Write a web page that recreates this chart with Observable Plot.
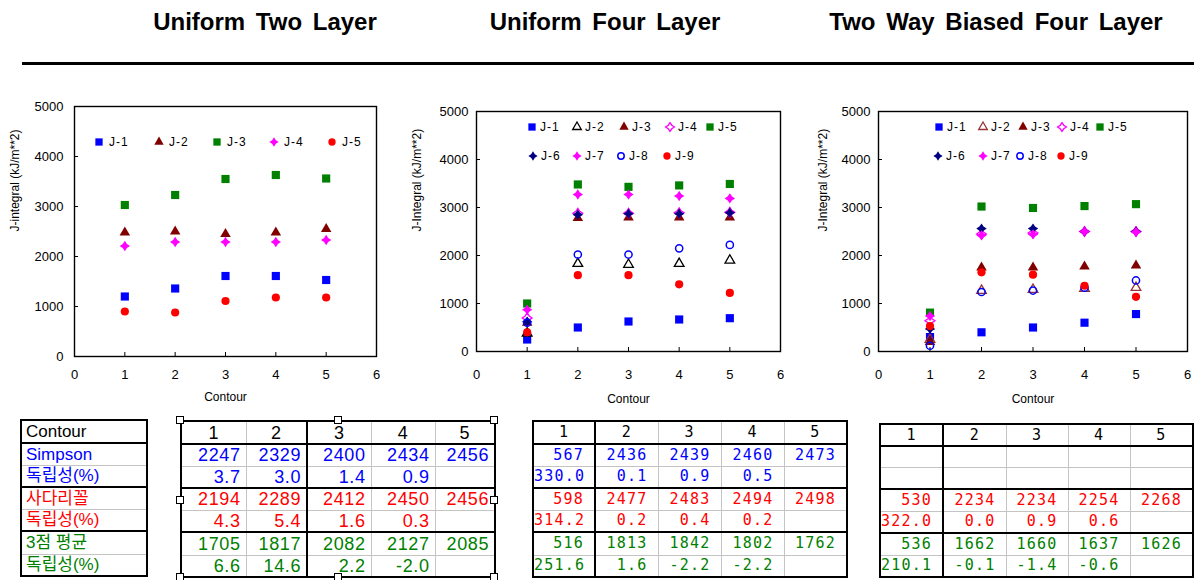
<!DOCTYPE html>
<html lang="ko">
<head>
<meta charset="utf-8">
<script src="https://cdn.jsdelivr.net/npm/d3@7"></script>
<script src="https://cdn.jsdelivr.net/npm/@observablehq/plot@0.6"></script>
<style>
html,body{margin:0;padding:0;background:#fff;}
#root{position:relative;width:1194px;height:580px;overflow:hidden;background:#fff;}
.title{position:absolute;top:8px;transform:translateX(-50%);white-space:nowrap;font-family:"Liberation Sans",Arial,sans-serif;font-weight:bold;font-size:24px;word-spacing:4px;color:#000;}
.rule{position:absolute;left:22px;top:62px;width:1172px;height:3px;background:#000;}
.chart{position:absolute;}
.legend{position:absolute;left:0;top:0;pointer-events:none;}
table.t{position:absolute;border-collapse:collapse;table-layout:fixed;}
table.t td{padding:0;overflow:hidden;white-space:nowrap;line-height:1;}
.handle{position:absolute;width:8px;height:8px;background:#fff;border:1px solid #000;box-sizing:border-box;}
</style>
</head>
<body><div id="root"></div>
<script>
// ---------- data ----------
const titles = ["Uniform Two Layer", "Uniform Four Layer", "Two Way Biased Four Layer"];
const contours = [1, 2, 3, 4, 5];
const xTicks = [0, 1, 2, 3, 4, 5, 6];
const yTicks = [0, 1000, 2000, 3000, 4000, 5000];
const xLabel = "Contour";

// Uniform Two Layer
const u2J1 = [1200, 1360, 1610, 1610, 1530];
const u2J2 = [2480, 2500, 2450, 2480, 2550];
const u2J3 = [3030, 3230, 3550, 3630, 3560];
const u2J4 = [2210, 2290, 2290, 2290, 2330];
const u2J5 = [900, 880, 1110, 1180, 1180];

// Uniform Four Layer
const u4J1 = [250, 500, 625, 667, 694];
const u4J2 = [380, 1830, 1810, 1830, 1900];
const u4J3 = [600, 2780, 2790, 2790, 2790];
const u4J4 = [700, 2880, 2880, 2890, 2900];
const u4J5 = [1000, 3480, 3430, 3460, 3490];
const u4J6 = [620, 2850, 2870, 2870, 2890];
const u4J7 = [870, 3270, 3270, 3240, 3190];
const u4J8 = [600, 2020, 2020, 2150, 2220];
const u4J9 = [400, 1590, 1590, 1400, 1220];

// Two Way Biased Four Layer
const bJ1 = [300, 400, 500, 600, 780];
const bJ2 = [250, 1270, 1290, 1310, 1330];
const bJ3 = [200, 1750, 1750, 1770, 1790];
const bJ4 = [640, 2450, 2470, 2500, 2500];
const bJ5 = [810, 3020, 2990, 3030, 3070];
const bJ6 = [470, 2560, 2560, 2500, 2500];
const bJ7 = [740, 2420, 2440, 2500, 2490];
const bJ8 = [120, 1240, 1270, 1330, 1480];
const bJ9 = [530, 1650, 1600, 1370, 1140];

// tables
const tHeader = ["1", "2", "3", "4", "5"];
const rowLabels = ["Contour", "Simpson", "독립성(%)", "사다리꼴", "독립성(%)", "3점 평균", "독립성(%)"];
const t1Simpson = ["2247", "2329", "2400", "2434", "2456"];
const t1SimpsonPct = ["3.7", "3.0", "1.4", "0.9", ""];
const t1Trap = ["2194", "2289", "2412", "2450", "2456"];
const t1TrapPct = ["4.3", "5.4", "1.6", "0.3", ""];
const t1Avg = ["1705", "1817", "2082", "2127", "2085"];
const t1AvgPct = ["6.6", "14.6", "2.2", "-2.0", ""];

const t2Simpson = ["567", "2436", "2439", "2460", "2473"];
const t2SimpsonPct = ["330.0", "0.1", "0.9", "0.5", ""];
const t2Trap = ["598", "2477", "2483", "2494", "2498"];
const t2TrapPct = ["314.2", "0.2", "0.4", "0.2", ""];
const t2Avg = ["516", "1813", "1842", "1802", "1762"];
const t2AvgPct = ["251.6", "1.6", "-2.2", "-2.2", ""];

const t3Simpson = ["", "", "", "", ""];
const t3SimpsonPct = ["", "", "", "", ""];
const t3Trap = ["530", "2234", "2234", "2254", "2268"];
const t3TrapPct = ["322.0", "0.0", "0.9", "0.6", ""];
const t3Avg = ["536", "1662", "1660", "1637", "1626"];
const t3AvgPct = ["210.1", "-0.1", "-1.4", "-0.6", ""];

// ---------- styles ----------
const BLUE = "#0000ff", MAROON = "#800000", GREEN = "#008000", MAGENTA = "#ff00ff",
      RED = "#ff0000", NAVY = "#000080", BLACK = "#000000", BROWN = "#993333";

const star4 = {
  draw(ctx, size) {
    const r = Math.sqrt(size / Math.PI) * 1.3, k = r * 0.4;
    ctx.moveTo(0, -r); ctx.lineTo(k, -k); ctx.lineTo(r, 0); ctx.lineTo(k, k);
    ctx.lineTo(0, r); ctx.lineTo(-k, k); ctx.lineTo(-r, 0); ctx.lineTo(-k, -k); ctx.closePath();
  }
};
const SQ = d3.symbolSquare, TRI = d3.symbolTriangle, CIR = d3.symbolCircle;

function sq(fill){return {sym: SQ, r: 4.6, fill};}
function tri(fill){return {sym: TRI, r: 3.9, fill};}
function otri(stroke){return {sym: TRI, r: 3.6, fill: "none", stroke, sw: 1.3};}
function cir(fill){return {sym: CIR, r: 4.1, fill};}
function ocir(stroke){return {sym: CIR, r: 3.6, fill: "none", stroke, sw: 1.5};}
function st(fill){return {sym: star4, r: 4, fill};}
function ost(stroke){return {sym: star4, r: 3.8, fill: "none", stroke, sw: 1.3};}

const charts = [
  {
    title: titles[0], titleX: 265,
    left: 0, top: 90, width: 400, height: 330, mL: 74, mR: 24, mT: 16, mB: 64,
    xPad: 17, yPad: 15, ylabel: "J-integral (kJ/m**2)", ylabelDx: -59, xlabelDy: 44,
    series: [
      {name: "J-1", values: u2J1, ...sq(BLUE)},
      {name: "J-2", values: u2J2, ...tri(MAROON)},
      {name: "J-3", values: u2J3, ...sq(GREEN)},
      {name: "J-4", values: u2J4, ...st(MAGENTA)},
      {name: "J-5", values: u2J5, ...cir(RED)}
    ],
    legend: [[52, [99, 159, 217, 274, 332]]], legendGap: 10
  },
  {
    title: titles[1], titleX: 605,
    left: 400, top: 90, width: 400, height: 330, mL: 76, mR: 20, mT: 21, mB: 69,
    xPad: 22, yPad: 12, ylabel: "J-Integral (kJ/m**2)", ylabelDx: -59, xlabelDy: 51,
    series: [
      {name: "J-1", values: u4J1, ...sq(BLUE)},
      {name: "J-2", values: u4J2, ...otri(BLACK)},
      {name: "J-3", values: u4J3, ...tri(MAROON)},
      {name: "J-4", values: u4J4, ...ost(MAGENTA)},
      {name: "J-5", values: u4J5, ...sq(GREEN)},
      {name: "J-6", values: u4J6, ...st(NAVY)},
      {name: "J-7", values: u4J7, ...st(MAGENTA)},
      {name: "J-8", values: u4J8, ...ocir(BLUE)},
      {name: "J-9", values: u4J9, ...cir(RED)}
    ],
    legend: [[37, [132, 177, 224, 270, 310]], [66, [133, 177, 221, 267]]], legendGap: 8
  },
  {
    title: titles[2], titleX: 996,
    left: 800, top: 90, width: 394, height: 330, mL: 78, mR: 7, mT: 21, mB: 69,
    xPad: 22, yPad: 12, ylabel: "J-Integral (kJ/m**2)", ylabelDx: -55, xlabelDy: 51,
    series: [
      {name: "J-1", values: bJ1, ...sq(BLUE)},
      {name: "J-2", values: bJ2, ...otri(BROWN)},
      {name: "J-3", values: bJ3, ...tri(MAROON)},
      {name: "J-4", values: bJ4, ...ost(MAGENTA)},
      {name: "J-5", values: bJ5, ...sq(GREEN)},
      {name: "J-6", values: bJ6, ...st(NAVY)},
      {name: "J-7", values: bJ7, ...st(MAGENTA)},
      {name: "J-8", values: bJ8, ...ocir(BLUE)},
      {name: "J-9", values: bJ9, ...cir(RED)}
    ],
    legend: [[37, [139, 183, 223, 262, 300]], [66, [138, 183, 220, 261]]], legendGap: 8
  }
];

const root = document.getElementById("root");
const FONT = "'Liberation Sans', Arial, sans-serif";

// titles and rule
for (const c of charts) {
  const t = document.createElement("div");
  t.className = "title"; t.style.left = c.titleX + "px"; t.textContent = c.title;
  root.appendChild(t);
}
const rule = document.createElement("div"); rule.className = "rule"; root.appendChild(rule);

// charts
for (const c of charts) {
  const marks = [
    Plot.frame({stroke: "#000", strokeWidth: 1.4}),
    Plot.axisX(xTicks, {tickSize: -4, tickPadding: c.xPad, label: null, fontSize: 13, stroke: "#000"}),
    Plot.axisY(yTicks, {tickSize: -4, tickPadding: c.yPad, label: null, fontSize: 13, tickFormat: d => String(d)}),
    Plot.text([xLabel], {text: d => d, frameAnchor: "bottom", dy: c.xlabelDy, fontSize: 12, fill: "#000"}),
    Plot.text([c.ylabel], {text: d => d, frameAnchor: "left", dx: c.ylabelDx, rotate: -90, fontSize: 12, fill: "#000"})
  ];
  for (const s of c.series) {
    const rows = contours.map((x, i) => ({contour: x, j: s.values[i]}));
    marks.push(Plot.dot(rows, {
      x: "contour", y: "j", symbol: s.sym, r: s.r,
      fill: s.fill, stroke: s.stroke || "none", strokeWidth: s.sw || 1
    }));
  }
  const svg = Plot.plot({
    width: c.width, height: c.height,
    marginLeft: c.mL, marginRight: c.mR, marginTop: c.mT, marginBottom: c.mB,
    x: {domain: [0, 6]}, y: {domain: [0, 5000]},
    style: {fontFamily: FONT, color: "#000", background: "transparent", overflow: "visible"},
    marks
  });
  const wrap = document.createElement("div");
  wrap.className = "chart";
  wrap.style.left = c.left + "px"; wrap.style.top = c.top + "px";
  wrap.style.width = c.width + "px"; wrap.style.height = c.height + "px";
  wrap.appendChild(svg);

  // legend overlay
  const lg = d3.create("svg").attr("class", "legend").attr("width", c.width).attr("height", c.height);
  let k = 0;
  for (const [ly, xs] of c.legend) {
    for (const lx of xs) {
      const s = c.series[k++];
      lg.append("path")
        .attr("transform", `translate(${lx},${ly})`)
        .attr("d", d3.symbol(s.sym, Math.PI * s.r * s.r * 0.8)())
        .attr("fill", s.fill).attr("stroke", s.stroke || "none").attr("stroke-width", s.sw || 1);
      lg.append("text")
        .attr("x", lx + c.legendGap).attr("y", ly).attr("dy", "0.35em")
        .attr("font-family", FONT).attr("font-size", 12).attr("letter-spacing", 1)
        .text(s.name);
    }
  }
  wrap.appendChild(lg.node());
  root.appendChild(wrap);
}

// ---------- tables ----------
function makeTable({left, top, colWidths, rowHeights, rows, font, fontSize, letterSpacing, thickRows, thickCols, padRight}) {
  const tbl = document.createElement("table");
  tbl.className = "t";
  tbl.style.left = left + "px"; tbl.style.top = top + "px";
  tbl.style.width = d3.sum(colWidths) + "px";
  const cg = document.createElement("colgroup");
  for (const w of colWidths) { const col = document.createElement("col"); col.style.width = w + "px"; cg.appendChild(col); }
  tbl.appendChild(cg);
  const nR = rows.length, nC = colWidths.length;
  rows.forEach((row, r) => {
    const tr = document.createElement("tr");
    tr.style.height = rowHeights[r] + "px";
    for (let ci = 0; ci < nC; ci++) {
      const cell = row.cells[ci] ?? "";
      const td = document.createElement("td");
      td.textContent = cell;
      td.style.color = row.color;
      td.style.fontFamily = font;
      td.style.fontSize = fontSize + "px";
      td.style.letterSpacing = letterSpacing + "px";
      td.style.textAlign = row.align;
      if (row.align === "right") td.style.paddingRight = padRight + "px";
      if (row.align === "left") td.style.paddingLeft = "4px";
      td.style.borderTop = r === 0 ? "2px solid #000" : "";
      td.style.borderBottom = (r === nR - 1 || thickRows.includes(r)) ? "2px solid #000" : "1px solid #c4c4c4";
      td.style.borderLeft = ci === 0 ? "2px solid #000" : "";
      td.style.borderRight = (ci === nC - 1 || thickCols.includes(ci)) ? "2px solid #000" : "1px solid #c4c4c4";
      tr.appendChild(td);
    }
    tbl.appendChild(tr);
  });
  root.appendChild(tbl);
}

const rh1 = [23, 22, 22, 22, 22, 23, 22];
const rowColors = [BLACK, BLUE, BLUE, RED, RED, GREEN, GREEN];
const KFONT = "'Liberation Sans', 'Noto Sans CJK KR', Arial, sans-serif";
const MONO = "'DejaVu Sans Mono', 'Liberation Mono', monospace";

// row label table
makeTable({
  left: 20, top: 419, colWidths: [126], rowHeights: rh1,
  rows: rowLabels.map((l, i) => ({cells: [l], color: rowColors[i], align: "left"})),
  font: KFONT, fontSize: 17, letterSpacing: 0, thickRows: [0, 2, 4], thickCols: [], padRight: 0
});

function bodyRows(header, a, b, c, d, e, f) {
  return [
    {cells: header, color: BLACK, align: "center"},
    {cells: a, color: BLUE, align: "right"},
    {cells: b, color: BLUE, align: "right"},
    {cells: c, color: RED, align: "right"},
    {cells: d, color: RED, align: "right"},
    {cells: e, color: GREEN, align: "right"},
    {cells: f, color: GREEN, align: "right"}
  ];
}

makeTable({
  left: 180, top: 420, colWidths: [65, 61, 64, 64, 60], rowHeights: rh1,
  rows: bodyRows(tHeader, t1Simpson, t1SimpsonPct, t1Trap, t1TrapPct, t1Avg, t1AvgPct),
  font: KFONT, fontSize: 18, letterSpacing: 0.6, thickRows: [0, 2, 4], thickCols: [1], padRight: 5
});

makeTable({
  left: 532, top: 420, colWidths: [62, 63, 63, 63, 63], rowHeights: rh1,
  rows: bodyRows(tHeader, t2Simpson, t2SimpsonPct, t2Trap, t2TrapPct, t2Avg, t2AvgPct),
  font: MONO, fontSize: 15, letterSpacing: 1.2, thickRows: [0, 2, 4], thickCols: [0], padRight: 10
});

makeTable({
  left: 879, top: 423, colWidths: [63, 63, 62, 62, 63], rowHeights: [22, 21, 22, 22, 22, 22, 22],
  rows: bodyRows(tHeader, t3Simpson, t3SimpsonPct, t3Trap, t3TrapPct, t3Avg, t3AvgPct),
  font: MONO, fontSize: 15, letterSpacing: 1.2, thickRows: [0, 2, 4], thickCols: [0], padRight: 10
});

// selection handles around the first data table
for (const [hx, hy] of [[180, 420], [338, 420], [494, 420], [180, 500], [494, 500], [180, 577], [338, 577], [494, 577]]) {
  const h = document.createElement("div");
  h.className = "handle";
  h.style.left = (hx - 4) + "px"; h.style.top = (hy - 4) + "px";
  root.appendChild(h);
}
</script>
</body>
</html>
